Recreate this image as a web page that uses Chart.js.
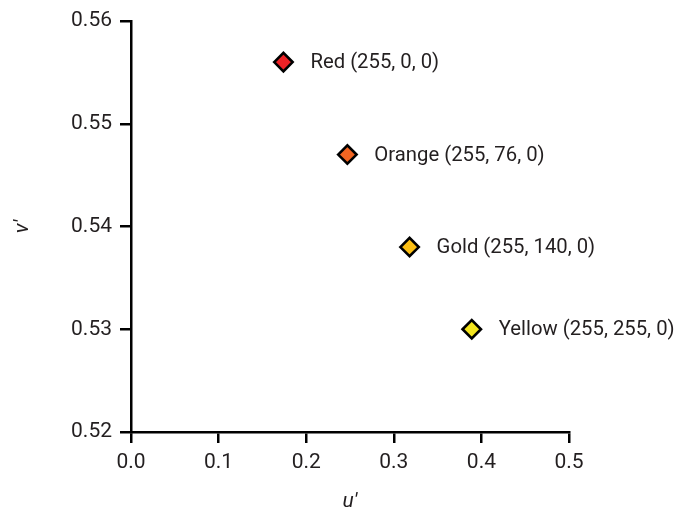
<!DOCTYPE html>
<html><head><meta charset="utf-8">
<script src="https://cdn.jsdelivr.net/npm/chart.js@4"></script>
<style>html,body{margin:0;padding:0;background:#fff}#wrap{width:675px;height:514px}</style>
</head><body><div id="wrap"><canvas id="c" width="675" height="514"></canvas></div>
<script>
const colorNames = ['Red (255, 0, 0)', 'Orange (255, 76, 0)', 'Gold (255, 140, 0)', 'Yellow (255, 255, 0)'];
const uValues = [0.174, 0.247, 0.318, 0.389];
const vValues = [0.556, 0.547, 0.538, 0.530];
const fillColors = ['#ee2226', '#f26522', '#fcbf14', '#f3e51f'];
const xTickValues = [0.0, 0.1, 0.2, 0.3, 0.4, 0.5];
const yTickValues = [0.52, 0.53, 0.54, 0.55, 0.56];
const xTitle = 'u\u2032';
const yTitle = 'v\u2032';

const FONT = "'Roboto', 'Liberation Sans', sans-serif";
const TEXT = '#231f20';
const FS = 21;
const LABEL_FS = 20.3;

const labelPlugin = {
  id: 'pointLabels',
  afterDatasetsDraw(chart) {
    const ctx = chart.ctx;
    const meta = chart.getDatasetMeta(0);
    ctx.save();
    ctx.font = LABEL_FS + 'px ' + FONT;
    ctx.fillStyle = TEXT;
    ctx.textAlign = 'left';
    ctx.textBaseline = 'middle';
    meta.data.forEach((pt, i) => {
      ctx.fillText(colorNames[i], pt.x + 27, pt.y + 1);
    });
    ctx.restore();
  }
};

new Chart(document.getElementById('c'), {
  type: 'scatter',
  data: {
    datasets: [{
      data: uValues.map((u, i) => ({x: u, y: vValues[i]})),
      pointStyle: 'rectRot',
      pointRadius: 9.2,
      pointHoverRadius: 9.2,
      backgroundColor: fillColors,
      borderColor: '#000',
      borderWidth: 2.6,
      clip: false
    }]
  },
  options: {
    responsive: false,
    devicePixelRatio: 1,
    animation: false,
    events: [],
    layout: {padding: {left: 0, right: 106, top: 21, bottom: 0}},
    plugins: {legend: {display: false}, tooltip: {enabled: false}},
    scales: {
      x: {
        type: 'linear', min: 0, max: 0.5,
        afterBuildTicks: s => { s.ticks = xTickValues.map(v => ({value: v})); },
        afterFit: s => { s.height = 82; },
        grid: {drawOnChartArea: false, drawTicks: true, tickLength: 11, lineWidth: 2.5, color: '#000'},
        border: {display: true, color: '#000', width: 2.5},
        ticks: {color: TEXT, font: {family: FONT, size: FS}, padding: 7, callback: v => Number(v).toFixed(1)},
        title: {display: true, text: xTitle, color: TEXT, font: {family: FONT, size: FS, style: 'italic'}, padding: {top: 0, bottom: 0}}
      },
      y: {
        type: 'linear', min: 0.52, max: 0.56,
        afterBuildTicks: s => { s.ticks = yTickValues.map(v => ({value: v})); },
        afterFit: s => { s.width = 131; },
        grid: {drawOnChartArea: false, drawTicks: true, tickLength: 11, lineWidth: 2.5, color: '#000'},
        border: {display: true, color: '#000', width: 2.5},
        ticks: {color: TEXT, font: {family: FONT, size: FS}, padding: 8, callback: v => Number(v).toFixed(2)},
        title: {display: true, text: yTitle, color: TEXT, font: {family: FONT, size: FS, style: 'italic'}, padding: {top: 10, bottom: 0}}
      }
    }
  },
  plugins: [labelPlugin]
});
</script></body></html>
